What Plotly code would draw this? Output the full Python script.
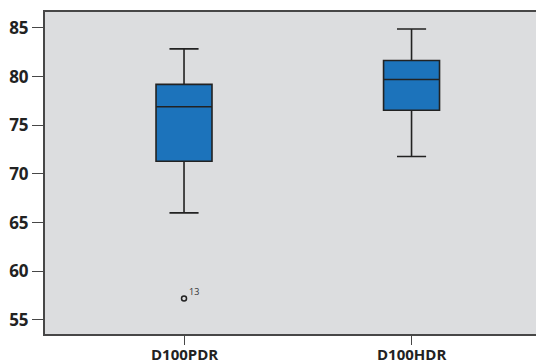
import plotly.graph_objects as go

# Summary statistics per group
groups = ["D100PDR", "D100HDR"]
lower_whisker = [66.0, 71.8]
q1_vals = [71.3, 76.55]
medians = [76.9, 79.7]
q3_vals = [79.2, 81.65]
upper_whisker = [82.85, 84.9]

# Outlying case
outlier_group = ["D100PDR"]
outlier_value = [57.2]
outlier_id = ["13"]

y_ticks = [55, 60, 65, 70, 75, 80, 85]

box_fill = "#1c73bb"
edge = "#222222"
axis_col = "#474747"
font_family = "Open Sans, Noto Sans, sans-serif"

fig = go.Figure()
fig.add_trace(go.Box(
    x=groups,
    q1=q1_vals,
    median=medians,
    q3=q3_vals,
    lowerfence=lower_whisker,
    upperfence=upper_whisker,
    fillcolor=box_fill,
    line=dict(color=edge, width=1.6),
    width=0.246,
    whiskerwidth=0.52,
    boxpoints=False,
    hoverinfo="skip",
    showlegend=False,
))
fig.add_trace(go.Scatter(
    x=outlier_group,
    y=outlier_value,
    mode="markers",
    marker=dict(symbol="circle-open", size=5, color=edge, line=dict(width=1.5)),
    showlegend=False,
    hoverinfo="skip",
))
# Case label next to the outlier
for g, v, t in zip(outlier_group, outlier_value, outlier_id):
    fig.add_annotation(
        x=g, y=v, text=t, showarrow=False,
        xanchor="left", yanchor="middle", xshift=3, yshift=7,
        font=dict(size=9, color="#333333", family=font_family),
    )

# Category labels placed just under the tick marks
for g in groups:
    fig.add_annotation(
        x=g, y=0, xref="x", yref="paper", text=g, showarrow=False,
        xanchor="center", yanchor="top", yshift=-9, borderpad=0,
        font=dict(size=15, family="Open Sans", weight="bold", color="#222222"),
    )

fig.update_layout(
    width=537,
    height=363,
    margin=dict(l=45, r=1, t=12, b=29),
    paper_bgcolor="white",
    plot_bgcolor="#dcdddf",
    font=dict(family=font_family, color="#222222"),
)
fig.update_xaxes(
    type="category",
    range=[-0.611, 1.547],
    automargin=False,
    showticklabels=False,
    showgrid=False,
    zeroline=False,
    showline=True,
    linecolor=axis_col,
    linewidth=2,
    mirror=True,
    ticks="outside",
    ticklen=9,
    tickwidth=1.2,
    tickcolor=axis_col,
)
fig.update_yaxes(
    range=[53.56, 86.64],
    tickvals=y_ticks,
    automargin=False,
    showgrid=False,
    zeroline=False,
    showline=True,
    linecolor=axis_col,
    linewidth=2,
    ticks="outside",
    ticklen=11,
    tickwidth=1.2,
    tickcolor=axis_col,
    tickfont=dict(size=17, family="Open Sans", weight="bold", color="#222222"),
)

fig.write_html("out.html")
